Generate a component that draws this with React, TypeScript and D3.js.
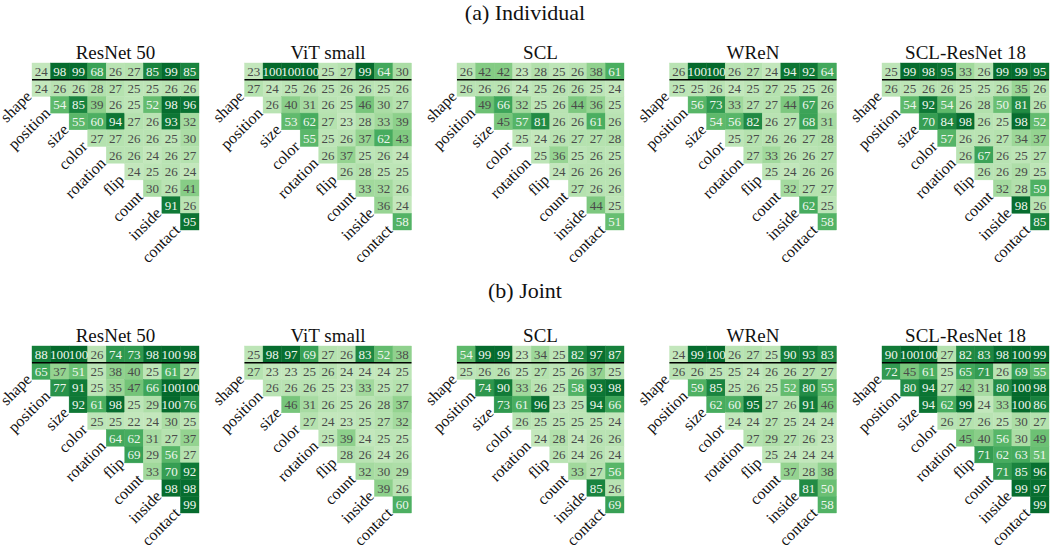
import React from "react";
import * as d3 from "d3";

// ---------- data ----------
const attributes = ["shape", "position", "size", "color", "rotation", "flip", "count", "inside", "contact"];
const models = ["ResNet 50", "ViT small", "SCL", "WReN", "SCL-ResNet 18"];
const panelTitles = ["(a) Individual", "(b) Joint"];

// first row = top (separated) row; following rows = upper triangle, row i starts at column i
const indResNet50 = [
  [24, 98, 99, 68, 26, 27, 85, 99, 85],
  [24, 26, 26, 28, 27, 25, 25, 26, 26],
  [54, 85, 39, 26, 25, 52, 98, 96],
  [55, 60, 94, 27, 26, 93, 32],
  [27, 27, 26, 26, 25, 30],
  [26, 26, 24, 26, 27],
  [24, 25, 26, 24],
  [30, 26, 41],
  [91, 26],
  [95],
];
const indViT = [
  [23, 100, 100, 100, 25, 27, 99, 64, 30],
  [27, 24, 25, 26, 25, 26, 26, 25, 26],
  [26, 40, 31, 26, 25, 46, 30, 27],
  [53, 62, 27, 23, 28, 33, 39],
  [55, 25, 26, 37, 62, 43],
  [26, 37, 25, 26, 24],
  [26, 28, 25, 25],
  [33, 32, 26],
  [36, 24],
  [58],
];
const indSCL = [
  [26, 42, 42, 23, 28, 25, 26, 38, 61],
  [26, 26, 26, 24, 25, 26, 26, 25, 24],
  [49, 66, 32, 25, 26, 44, 36, 25],
  [45, 57, 81, 26, 26, 61, 26],
  [25, 24, 26, 27, 27, 28],
  [25, 36, 25, 26, 25],
  [24, 26, 26, 26],
  [27, 26, 26],
  [44, 25],
  [51],
];
const indWReN = [
  [26, 100, 100, 26, 27, 24, 94, 92, 64],
  [25, 25, 26, 24, 25, 27, 25, 25, 26],
  [56, 73, 33, 27, 27, 44, 67, 26],
  [54, 56, 82, 26, 27, 68, 31],
  [25, 27, 26, 26, 27, 28],
  [27, 33, 26, 26, 27],
  [25, 24, 26, 26],
  [32, 27, 27],
  [62, 25],
  [58],
];
const indSCLResNet18 = [
  [25, 99, 98, 95, 33, 26, 99, 99, 95],
  [26, 25, 26, 26, 25, 25, 26, 35, 26],
  [54, 92, 54, 26, 28, 50, 81, 26],
  [70, 84, 98, 26, 25, 98, 52],
  [57, 26, 26, 27, 34, 37],
  [26, 67, 26, 25, 27],
  [26, 26, 29, 25],
  [32, 28, 59],
  [98, 26],
  [85],
];

const jointResNet50 = [
  [88, 100, 100, 26, 74, 73, 98, 100, 98],
  [65, 37, 51, 25, 38, 40, 25, 61, 27],
  [77, 91, 25, 35, 47, 66, 100, 100],
  [92, 61, 98, 25, 29, 100, 76],
  [25, 25, 22, 24, 30, 25],
  [64, 62, 31, 27, 37],
  [69, 29, 56, 27],
  [33, 70, 92],
  [98, 98],
  [99],
];
const jointViT = [
  [25, 98, 97, 69, 27, 26, 83, 52, 38],
  [27, 23, 23, 25, 26, 24, 24, 24, 25],
  [26, 26, 26, 25, 23, 33, 25, 27],
  [46, 31, 26, 25, 26, 28, 37],
  [27, 24, 23, 25, 27, 32],
  [25, 39, 24, 25, 25],
  [28, 26, 24, 26],
  [32, 30, 29],
  [39, 26],
  [60],
];
const jointSCL = [
  [54, 99, 99, 23, 34, 25, 82, 97, 87],
  [25, 26, 26, 25, 27, 25, 26, 37, 25],
  [74, 90, 33, 26, 25, 58, 93, 98],
  [73, 61, 96, 23, 25, 94, 66],
  [26, 25, 25, 25, 25, 24],
  [24, 28, 24, 26, 26],
  [26, 24, 26, 24],
  [33, 27, 56],
  [85, 26],
  [69],
];
const jointWReN = [
  [24, 99, 100, 26, 27, 25, 90, 93, 83],
  [26, 26, 25, 25, 24, 26, 26, 27, 27],
  [59, 85, 25, 26, 25, 52, 80, 55],
  [62, 60, 95, 27, 26, 91, 46],
  [24, 24, 27, 25, 24, 24],
  [27, 29, 27, 26, 23],
  [25, 24, 24, 24],
  [37, 28, 38],
  [81, 50],
  [58],
];
const jointSCLResNet18 = [
  [90, 100, 100, 27, 82, 83, 98, 100, 99],
  [72, 45, 61, 25, 65, 71, 26, 69, 55],
  [80, 94, 27, 42, 31, 80, 100, 98],
  [94, 62, 99, 24, 33, 100, 86],
  [26, 27, 26, 25, 30, 27],
  [45, 40, 56, 30, 49],
  [71, 62, 63, 51],
  [71, 85, 96],
  [99, 97],
  [99],
];

const individualPanels = [indResNet50, indViT, indSCL, indWReN, indSCLResNet18];
const jointPanels = [jointResNet50, jointViT, jointSCL, jointWReN, jointSCLResNet18];
const sections = [individualPanels, jointPanels];

// ---------- layout ----------
const W = 1050;
const H = 551;
const FONT = '"Liberation Serif", "Times New Roman", "DejaVu Serif", serif';
const gridW = 167;
const gridH = 167;
const panelStep = 212.5;
const firstLeft = 32;
const sectionTops = [63, 346];
const sectionTitleY = [20, 298];

const tScale = d3.scaleLinear().domain([24, 100]).range([0, 1]).clamp(true);
function cellColor(v: number): string {
  const t = 0.26 + 0.62 * Math.pow(tScale(v), 0.8);
  return d3.interpolateGreens(t);
}

function Heatmap({ data, title, left, top }: { data: number[][]; title: string; left: number; top: number }) {
  const x = d3.scaleBand<number>().domain(d3.range(attributes.length)).range([left, left + gridW]);
  const y = d3.scaleBand<number>().domain(d3.range(attributes.length + 1)).range([top, top + gridH]);
  const cw = x.bandwidth();
  const ch = y.bandwidth();
  const cells = data.flatMap((row, r) =>
    row.map((v, j) => {
      const c = r === 0 ? j : r - 1 + j;
      return { r, c, v };
    })
  );
  return (
    <g>
      <text x={left + gridW / 2} y={top - 4} textAnchor="middle" style={{ fontFamily: FONT, fontSize: 19 }} fill="#111">
        {title}
      </text>
      {cells.map((d, i) => (
        <rect
          key={"r" + i}
          x={x(d.c)!}
          y={y(d.r)!}
          width={cw}
          height={ch}
          fill={cellColor(d.v)}
          stroke={cellColor(d.v)}
          strokeWidth={0.4}
        />
      ))}
      {cells.map((d, i) => (
        <text
          key={"t" + i}
          x={x(d.c)! + cw / 2}
          y={y(d.r)! + ch / 2}
          dy="0.36em"
          textAnchor="middle"
          style={{ fontFamily: FONT, fontSize: 13 }}
          fill={d.v >= 50 ? "#eef6ee" : "#4a4a4a"}
        >
          {d.v}
        </text>
      ))}
      <line x1={x(0)!} x2={x(attributes.length - 1)! + cw} y1={y(1)!} y2={y(1)!} stroke="#000" strokeWidth={1.5} />
      {attributes.map((a, i) => {
        const ax = x(i)! + 0.5;
        const ay = y(i + 1)! + ch + 1;
        return (
          <text
            key={"l" + a}
            x={ax}
            y={ay}
            transform={`rotate(-45 ${ax} ${ay})`}
            textAnchor="end"
            style={{ fontFamily: FONT, fontSize: 16 }}
            fill="#111"
          >
            {a}
          </text>
        );
      })}
    </g>
  );
}

export default function App() {
  return (
    <div style={{ position: "absolute", left: 0, top: 0 }}>
      <svg width={W} height={H} style={{ display: "block", background: "#fff" }}>
        {sections.map((panels, s) => (
          <g key={"s" + s}>
            <text x={W / 2} y={sectionTitleY[s]} textAnchor="middle" style={{ fontFamily: FONT, fontSize: 22 }} fill="#111">
              {panelTitles[s]}
            </text>
            {panels.map((data, k) => (
              <Heatmap key={k} data={data} title={models[k]} left={firstLeft + k * panelStep} top={sectionTops[s]} />
            ))}
          </g>
        ))}
      </svg>
    </div>
  );
}
